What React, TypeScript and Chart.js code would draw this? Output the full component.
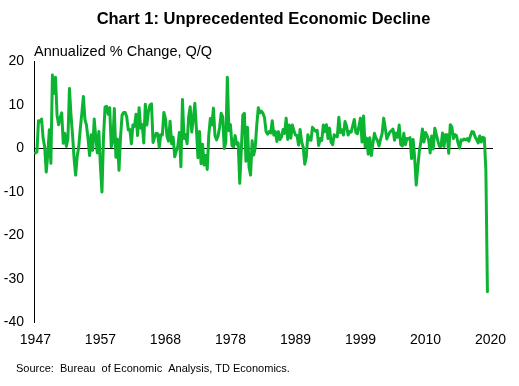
import React, { useEffect, useRef } from "react";
import { Chart, registerables } from "chart.js";

Chart.register(...registerables);

// US real GDP, annualized % change Q/Q, 1947Q2 .. 2020Q2
const startYear = 1947;
const startQuarter = 2;
const gdpGrowth: number[] = [
  // 1947 Q2-Q4
  -1.0, -0.8, 6.4,
  // 1948
  6.2, 6.8, 2.3, 0.4,
  // 1949
  -5.4, -1.4, 4.3, -3.4,
  // 1950
  16.9, 12.7, 16.4, 7.6,
  // 1951
  5.5, 7.1, 8.2, 1.2,
  // 1952
  3.5, 0.5, 2.2, 13.8,
  // 1953
  7.7, 3.1, -2.3, -6.1,
  // 1954
  -1.8, 0.4, 4.6, 8.1,
  // 1955
  12.0, 6.7, 5.4, 2.3,
  // 1956
  -1.6, 3.2, -0.4, 6.8,
  // 1957
  2.5, -1.0, 3.9, -4.1,
  // 1958
  -10.0, 2.6, 9.6, 9.7,
  // 1959
  7.9, 9.4, 0.4, 1.6,
  // 1960
  9.2, -2.0, 2.2, -5.0,
  // 1961
  2.7, 7.7, 8.3, 8.3,
  // 1962
  7.3, 4.3, 4.4, 1.1,
  // 1963
  5.4, 5.1, 7.9, 3.0,
  // 1964
  9.4, 4.7, 5.5, 1.3,
  // 1965
  10.2, 5.4, 8.5, 10.0,
  // 1966
  10.3, 1.4, 2.6, 3.5,
  // 1967
  3.4, 0.3, 3.2, 3.1,
  // 1968
  8.3, 6.9, 2.8, 1.7,
  // 1969
  6.3, 1.1, 2.6, -1.9,
  // 1970
  -0.6, 0.6, 3.7, -4.2,
  // 1971
  11.3, 2.3, 3.2, 1.1,
  // 1972
  7.4, 9.6, 3.8, 6.9,
  // 1973
  10.4, 4.6, -2.1, 3.9,
  // 1974
  -3.5, 1.0, -3.8, -1.6,
  // 1975
  -4.8, 3.1, 6.9, 5.4,
  // 1976
  9.3, 3.0, 2.0, 2.9,
  // 1977
  4.9, 8.1, 7.3, 0.0,
  // 1978
  1.4, 16.4, 4.1, 5.5,
  // 1979
  0.7, 0.4, 3.0, 1.0,
  // 1980
  1.3, -8.0, -0.5, 7.7,
  // 1981
  8.1, -2.9, 4.9, -4.3,
  // 1982
  -6.1, 1.8, -1.5, 0.2,
  // 1983
  5.4, 9.4, 8.2, 8.6,
  // 1984
  8.1, 7.1, 3.9, 3.3,
  // 1985
  3.9, 3.6, 6.4, 3.1,
  // 1986
  3.9, 1.6, 3.9, 2.1,
  // 1987
  2.7, 4.4, 3.5, 7.0,
  // 1988
  2.1, 5.4, 2.4, 5.4,
  // 1989
  4.1, 3.1, 3.0, 0.8,
  // 1990
  4.4, 1.5, 0.3, -3.6,
  // 1991
  -1.9, 3.2, 2.0, 1.9,
  // 1992
  4.9, 4.4, 4.0, 4.2,
  // 1993
  0.7, 2.3, 1.9, 5.4,
  // 1994
  3.9, 5.5, 2.3, 4.7,
  // 1995
  1.4, 0.9, 3.2, 2.8,
  // 1996
  2.7, 7.2, 3.7, 4.3,
  // 1997
  3.1, 6.2, 5.2, 3.1,
  // 1998
  3.9, 3.8, 5.3, 6.7,
  // 1999
  3.7, 3.4, 5.1, 7.0,
  // 2000
  1.5, 7.5, 0.4, 2.4,
  // 2001
  -1.3, 2.5, -1.6, 1.1,
  // 2002
  3.5, 2.4, 1.8, 0.6,
  // 2003
  2.2, 3.5, 7.0, 4.7,
  // 2004
  2.2, 3.1, 3.8, 4.1,
  // 2005
  4.5, 1.9, 3.6, 2.6,
  // 2006
  5.4, 0.9, 0.6, 3.5,
  // 2007
  0.9, 2.3, 2.2, 2.5,
  // 2008
  -2.3, 2.1, -2.1, -8.4,
  // 2009
  -4.4, -0.6, 1.5, 4.5,
  // 2010
  1.5, 3.7, 3.0, 2.0,
  // 2011
  -1.0, 2.9, -0.1, 4.7,
  // 2012
  3.2, 1.7, 0.5, 0.5,
  // 2013
  3.6, 0.5, 3.2, 3.2,
  // 2014
  -1.1, 5.5, 5.0, 2.3,
  // 2015
  3.2, 3.0, 1.3, 0.1,
  // 2016
  2.0, 1.9, 2.2, 2.0,
  // 2017
  2.3, 1.7, 2.9, 3.9,
  // 2018
  3.8, 2.7, 2.1, 1.3,
  // 2019
  2.9, 1.5, 2.6, 2.4,
  // 2020
  -5.0, -32.9,
];

// quarter categories (index i = quarter number since 1947Q2)
const quarters: string[] = gdpGrowth.map((_, i) => {
  const q = startQuarter - 1 + i;
  return `${startYear + Math.floor(q / 4)}Q${(q % 4) + 1}`;
});

// x-axis tick labels and the quarter index they sit on
const tickLabels: string[] = ["1947", "1957", "1968", "1978", "1989", "1999", "2010", "2020"];
const tickIndex: number[] = [0, 42, 84, 126, 168, 210, 252, 294];

const yTicks: number[] = [20, 10, 0, -10, -20, -30, -40];

const titleText = "Chart 1: Unprecedented Economic Decline";
const subtitleText = "Annualized % Change, Q/Q";
const sourceText = "Source:  Bureau  of Economic  Analysis, TD Economics.";

const FONT = "'Liberation Sans', Arial, Helvetica, sans-serif";
const GREEN = "#0DB432";

const sourcePlugin = {
  id: "sourceNote",
  afterDraw(chart: any) {
    const ctx = chart.ctx;
    ctx.save();
    ctx.font = `11px ${FONT}`;
    ctx.fillStyle = "#000";
    ctx.textAlign = "left";
    ctx.textBaseline = "middle";
    ctx.fillText(sourceText, 16, 369);
    ctx.restore();
  },
};

export default function App() {
  const canvasRef = useRef<HTMLCanvasElement | null>(null);

  useEffect(() => {
    if (!canvasRef.current) return;
    const chart = new Chart(canvasRef.current, {
      type: "line",
      data: {
        labels: quarters,
        datasets: [
          {
            label: "Real GDP",
            data: gdpGrowth.map((v, i) => ({ x: i, y: v })),
            borderColor: GREEN,
            backgroundColor: GREEN,
            borderWidth: 3,
            pointRadius: 0,
            pointHoverRadius: 0,
            tension: 0,
            borderJoinStyle: "round",
            borderCapStyle: "round",
            fill: false,
          },
        ],
      },
      options: {
        animation: false,
        responsive: false,
        maintainAspectRatio: false,
        devicePixelRatio: 1,
        layout: { padding: { left: 0, right: 26, top: 0, bottom: 0 } },
        plugins: {
          legend: { display: false },
          tooltip: { enabled: false },
          title: {
            display: true,
            text: titleText,
            fullSize: false,
            color: "#000",
            font: { family: FONT, size: 16.5, weight: "bold", lineHeight: 1.2 },
            padding: { top: 9.4, bottom: 13.7 },
          },
          subtitle: {
            display: true,
            text: subtitleText,
            fullSize: false,
            align: "start",
            color: "#000",
            font: { family: FONT, size: 14.5, weight: "normal", lineHeight: 1.2 },
            padding: { top: 0, bottom: 1.3 },
          },
        },
        scales: {
          x: {
            type: "linear",
            min: -0.9,
            max: 295.6,
            grid: { display: false, drawTicks: false },
            border: { display: false },
            afterBuildTicks: (scale: any) => {
              scale.ticks = tickIndex.map((v) => ({ value: v }));
            },
            afterFit: (scale: any) => {
              scale.height = 63.5;
            },
            ticks: {
              autoSkip: false,
              maxRotation: 0,
              minRotation: 0,
              padding: 9,
              color: "#000",
              font: { family: FONT, size: 14 },
              callback: (value: any) => {
                const k = tickIndex.indexOf(Number(value));
                return k >= 0 ? tickLabels[k] : "";
              },
            },
          },
          y: {
            type: "linear",
            min: -40,
            max: 20,
            afterBuildTicks: (scale: any) => {
              scale.ticks = yTicks.map((v) => ({ value: v }));
            },
            afterFit: (scale: any) => {
              scale.width = 34;
            },
            grid: {
              drawTicks: false,
              color: (ctx: any) => (ctx.tick && ctx.tick.value === 0 ? "#000" : "rgba(0,0,0,0)"),
              lineWidth: 1,
            },
            border: { display: true, color: "#000", width: 1 },
            ticks: {
              padding: 10,
              color: "#000",
              font: { family: FONT, size: 14 },
              callback: (value: any) => String(value),
            },
          },
        },
      },
      plugins: [sourcePlugin],
    });
    return () => chart.destroy();
  }, []);

  return (
    <div style={{ position: "fixed", left: 0, top: 0, width: 519, height: 386, background: "#fff" }}>
      <canvas ref={canvasRef} width={519} height={386} style={{ display: "block", width: 519, height: 386 }} />
    </div>
  );
}
